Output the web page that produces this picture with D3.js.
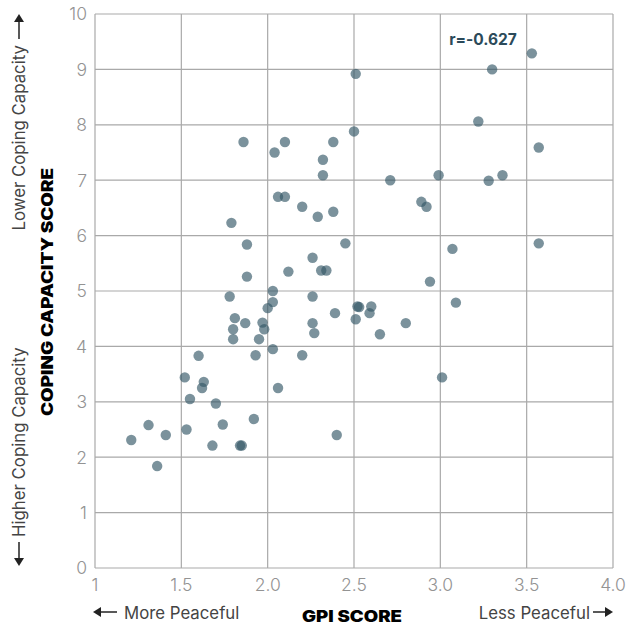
<!DOCTYPE html>
<html><head><meta charset="utf-8">
<script src="https://cdn.jsdelivr.net/npm/d3@7"></script>
<style>body{margin:0;background:#fff;} svg{display:block;}</style>
</head><body>
<div id="chart"></div>
<script>
const gpi = [3.53,3.30,2.51,3.22,2.50,3.57,1.86,2.10,2.04,2.38,2.32,2.32,2.71,2.99,3.28,3.36,2.89,2.92,2.06,2.10,
  2.20,2.29,2.38,1.79,1.88,2.45,2.26,2.12,2.31,2.34,1.88,2.03,1.78,2.26,2.03,3.07,3.57,2.94,3.09,2.80,
  3.01,2.00,2.39,2.52,2.53,2.60,2.51,2.59,2.26,2.27,2.65,1.97,1.98,1.95,2.03,2.20,1.93,2.06,2.40,1.81,
  1.87,1.80,1.80,1.60,1.52,1.63,1.62,1.55,1.70,1.31,1.41,1.21,1.53,1.74,1.92,1.68,1.84,1.85,1.36];
const coping = [9.29,9.00,8.92,8.06,7.88,7.59,7.69,7.69,7.50,7.69,7.37,7.09,7.00,7.09,6.99,7.09,6.61,6.52,6.70,6.70,
  6.52,6.34,6.43,6.23,5.84,5.86,5.60,5.35,5.37,5.37,5.26,5.00,4.90,4.90,4.80,5.76,5.86,5.17,4.79,4.42,
  3.44,4.69,4.60,4.72,4.71,4.72,4.49,4.60,4.42,4.24,4.22,4.43,4.31,4.13,3.95,3.84,3.84,3.25,2.40,4.51,
  4.42,4.31,4.13,3.83,3.44,3.36,3.25,3.05,2.97,2.58,2.40,2.31,2.50,2.59,2.69,2.21,2.21,2.21,1.84];
const xTicks = [1,1.5,2,2.5,3,3.5,4];
const xTickLabels = ["1","1.5","2.0","2.5","3.0","3.5","4.0"];
const yTicks = [0,1,2,3,4,5,6,7,8,9,10];
const annotation = "r=-0.627";
const xTitle = "GPI SCORE", yTitle = "COPING CAPACITY SCORE";
const xLeft = "More Peaceful", xRight = "Less Peaceful";
const yLow = "Higher Coping Capacity", yHigh = "Lower Coping Capacity";

const W = 628, H = 627;
const svg = d3.select("#chart").append("svg").attr("width", W).attr("height", H);
const x = d3.scaleLinear().domain([1,4]).range([95,613]);
const y = d3.scaleLinear().domain([0,10]).range([568,14]);
const grid = "#a9a9a9";
const light = "Inter, 'Open Sans', sans-serif";
const labelSize = 16.8;

// grid
svg.append("g").selectAll("line").data(xTicks).join("line")
  .attr("x1", d=>x(d)).attr("x2", d=>x(d)).attr("y1", y(0)).attr("y2", y(10))
  .attr("stroke", grid).attr("stroke-width", 1.2);
svg.append("g").selectAll("line").data(yTicks).join("line")
  .attr("x1", x(1)).attr("x2", x(4)).attr("y1", d=>y(d)).attr("y2", d=>y(d))
  .attr("stroke", grid).attr("stroke-width", 1.2);

// tick labels
svg.append("g").selectAll("text").data(yTicks).join("text")
  .attr("x", 87).attr("y", d=>y(d)).attr("dy","0.37em").attr("text-anchor","end")
  .attr("font-family", light).attr("font-weight",300).attr("font-size",17.5).attr("fill","#939393")
  .text(d=>d);
svg.append("g").selectAll("text").data(xTicks).join("text")
  .attr("x", d=>x(d)).attr("y", 591).attr("text-anchor","middle")
  .attr("font-family", light).attr("font-weight",300).attr("font-size",17.5).attr("fill","#939393")
  .text((d,i)=>xTickLabels[i]);

// points
svg.append("g").selectAll("circle").data(gpi.map((g,i)=>[g,coping[i]])).join("circle")
  .attr("cx", d=>x(d[0])).attr("cy", d=>y(d[1])).attr("r", 5.2)
  .attr("fill", "#345767").attr("fill-opacity", 0.65);

// annotation
svg.append("text").attr("x", 483).attr("y", 45).attr("text-anchor","middle")
  .attr("font-family","Inter, sans-serif").attr("font-weight",700).attr("font-size",15.5)
  .attr("fill","#2b4a5a").text(annotation);

// arrow helper: horizontal arrow in group from x0 to x1 (head at x1)
function arrow(g, x0, x1, yy){
  const dir = Math.sign(x1-x0);
  g.append("line").attr("x1", x0).attr("x2", x1 - dir*6).attr("y1", yy).attr("y2", yy)
    .attr("stroke","#222").attr("stroke-width",1.5);
  g.append("path").attr("d", `M${x1},${yy} L${x1-dir*8},${yy-5} L${x1-dir*8},${yy+5} Z`).attr("fill","#222");
}

// x axis titles
const xt = svg.append("g");
xt.append("text").attr("x", 352).attr("y", 622).attr("text-anchor","middle")
  .attr("font-family","Inter, sans-serif").attr("font-weight",900).attr("font-size",15.5)
  .attr("textLength",100).attr("lengthAdjust","spacingAndGlyphs").attr("fill","#000").text(xTitle);
xt.append("text").attr("x", 124).attr("y", 619).attr("text-anchor","start")
  .attr("font-family", light).attr("font-size",labelSize).attr("fill","#444").text(xLeft);
arrow(xt, 117, 93, 612);
xt.append("text").attr("x", 590).attr("y", 619).attr("text-anchor","end")
  .attr("font-family", light).attr("font-size",labelSize).attr("fill","#444").text(xRight);
arrow(xt, 593, 613, 612);

// y axis titles (rotated)
const yt = svg.append("g").attr("transform","translate(53,0) rotate(-90)");
yt.append("text").attr("x", -292).attr("y", 0).attr("text-anchor","middle")
  .attr("font-family","Inter, sans-serif").attr("font-weight",900).attr("font-size",15.5)
  .attr("textLength",248).attr("lengthAdjust","spacingAndGlyphs").attr("fill","#000").text(yTitle);
const yl = svg.append("g").attr("transform","translate(25,0) rotate(-90)");
yl.append("text").attr("x", -537).attr("y", 0).attr("text-anchor","start")
  .attr("font-family", light).attr("font-size",labelSize).attr("fill","#444").text(yLow);
arrow(yl, -542, -566, -6);
yl.append("text").attr("x", -45).attr("y", 0).attr("text-anchor","end")
  .attr("font-family", light).attr("font-size",labelSize).attr("fill","#444").text(yHigh);
arrow(yl, -39, -14, -6);
</script>
</body></html>
